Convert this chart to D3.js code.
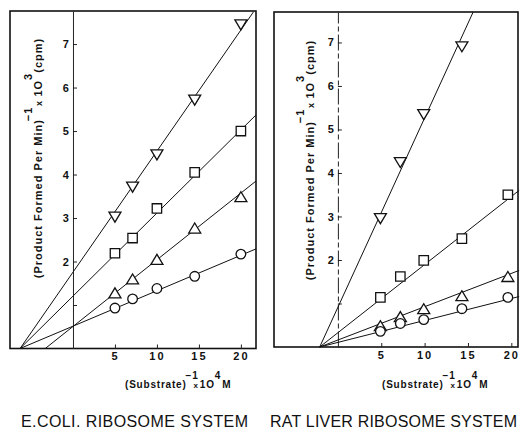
<!DOCTYPE html>
<html>
<head>
<meta charset="utf-8">
<script src="https://cdn.jsdelivr.net/npm/d3@7"></script>
<style>
body { margin: 0; background: #fff; }
text { font-family: "Liberation Sans", Arial, sans-serif; fill: #111; }
</style>
</head>
<body>
<script>
// values
var yTicks = [1, 2, 3, 4, 5, 6, 7]
var xTicks = [5, 10, 15, 20]

// E. coli panel
var ecoliX = [5, 7.1, 10, 14.5, 20]
var ecoliInv = [3.02, 3.71, 4.45, 5.71, 7.44]
var ecoliSq = [2.19, 2.54, 3.22, 4.05, 5.0]
var ecoliTri = [1.28, 1.6, 2.05, 2.77, 3.49]
var ecoliCirc = [0.93, 1.14, 1.38, 1.66, 2.17]
// fitted lines, [start, end] as [x, y]
var ecoliLines = {
  inv: [[-6.3, 0], [21.5, 7.74]],
  sq: [[-6.3, 0], [21.8, 5.37]],
  tri: [[-3.3, 0], [21.8, 3.85]],
  circ: [[-6.3, 0], [21.8, 2.29]]
}

// rat liver panel
var ratX = [4.9, 7.2, 9.9, 14.3, 19.6]
var ratInv = [2.95, 4.24, 5.34, 6.9]
var ratSq = [1.14, 1.62, 1.99, 2.49, 3.5]
var ratTri = [0.49, 0.7, 0.88, 1.18, 1.62]
var ratCirc = [0.36, 0.54, 0.63, 0.88, 1.14]
var ratLines = {
  inv: [[-2.1, 0], [15.6, 7.7]],
  sq: [[-2.1, 0], [20.9, 3.6]],
  tri: [[-2.1, 0], [20.9, 1.76]],
  circ: [[-2.1, 0], [20.9, 1.16]]
}

var width = 526, height = 430

var svg = d3.select("body").append("svg")
    .attr("width", width)
    .attr("height", height)

function marker(type) {
  if (type == "inv") return "M-6,-5L6,-5L0,5Z"
  if (type == "tri") return "M-6,5L6,5L0,-5Z"
  if (type == "sq") return "M-4.7,-4.7h9.4v9.4h-9.4Z"
  return d3.symbol().type(d3.symbolCircle).size(Math.PI * 4.8 * 4.8)()
}

var drawPanel = function(p) {
  var x = d3.scaleLinear().domain(p.xDom).range([p.left, p.right])
  var y = d3.scaleLinear().domain(p.yDom).range([p.bottom, p.top])
  var g = svg.append("g")

  // frame
  g.append("rect")
    .attr("x", p.left).attr("y", p.top)
    .attr("width", p.right - p.left).attr("height", p.bottom - p.top)
    .attr("fill", "none").attr("stroke", "#111").attr("stroke-width", 1.6)

  // y axis sits at x = 0
  var yAxis = d3.axisLeft(y).tickValues(yTicks).tickSize(-4).tickSizeOuter(0).tickPadding(4)
    .tickFormat(function(d) { return d == 1 ? "" : d })
  var ya = g.append("g").attr("transform", "translate(" + x(0) + ",0)").call(yAxis)
  ya.select(".domain").attr("stroke", "#222").attr("stroke-dasharray", p.dashed ? "16,3,5,3" : null)
  ya.selectAll(".tick line").attr("stroke", "#222")
  ya.selectAll("text").attr("font-size", 11).attr("font-weight", "bold").style("font-family", "Liberation Sans, Arial, sans-serif").attr("fill", "#111")

  var xAxis = d3.axisBottom(x).tickValues(xTicks).tickSize(-4).tickPadding(4)
  var xa = g.append("g").attr("transform", "translate(0," + p.bottom + ")").call(xAxis)
  xa.select(".domain").remove()
  xa.selectAll(".tick line").attr("stroke", "#222")
  xa.selectAll("text").attr("font-size", 11).attr("font-weight", "bold")
    .attr("letter-spacing", 2).style("font-family", "Liberation Sans, Arial, sans-serif").attr("fill", "#111")

  // fitted lines
  var line = d3.line().x(function(d) { return x(d[0]) }).y(function(d) { return y(d[1]) })
  Object.keys(p.lines).forEach(function(k) {
    g.append("path").attr("d", line(p.lines[k]))
      .attr("fill", "none").attr("stroke", "#111").attr("stroke-width", 1)
  })

  // points
  p.series.forEach(function(s) {
    g.selectAll(null).data(s.values).enter().append("path")
      .attr("transform", function(d, i) { return "translate(" + x(p.xs[i]) + "," + y(d) + ")" })
      .attr("d", marker(s.type))
      .attr("fill", "#fff").attr("stroke", "#111").attr("stroke-width", 1.3)
  })

  // y label
  var yl = g.append("text")
    .attr("transform", "translate(" + p.ylx + "," + p.yly + ") rotate(-90)")
    .attr("text-anchor", "middle").attr("font-size", 11).attr("font-weight", "bold")
    .attr("letter-spacing", 1)
  yl.append("tspan").text("(Product Formed Per Min)")
  yl.append("tspan").attr("dy", -10).attr("dx", -2).text("\u22121")
  yl.append("tspan").attr("dy", 10).attr("dx", -3).attr("font-size", 9).text(" x ")
  yl.append("tspan").text("1O")
  yl.append("tspan").attr("dy", -10).text("3")
  yl.append("tspan").attr("dy", 10).text("(cpm)")

  // x label
  var xl = g.append("text")
    .attr("x", p.xlx).attr("y", 388)
    .attr("font-size", 10).attr("font-weight", "bold").attr("letter-spacing", 0.8)
  xl.append("tspan").text("(Substrate)")
  xl.append("tspan").attr("dy", -9).attr("dx", -1).text("\u22121")
  xl.append("tspan").attr("dy", 9).attr("dx", -5).attr("font-size", 8).text("x")
  xl.append("tspan").attr("dx", 1).text("1O")
  xl.append("tspan").attr("dy", -9).text("4")
  xl.append("tspan").attr("dy", 9).attr("dx", 1).text("M")

  // caption
  g.append("text")
    .attr("x", p.capX).attr("y", 427)
    .attr("font-size", 16).attr("textLength", p.capW).attr("lengthAdjust", "spacing")
    .attr("fill", "#222")
    .text(p.caption)
}

drawPanel({
  left: 10, right: 256, top: 11, bottom: 348.5,
  xDom: [-7.5, 21.8], yDom: [0, 7.76],
  xs: ecoliX,
  series: [
    { type: "inv", values: ecoliInv },
    { type: "sq", values: ecoliSq },
    { type: "tri", values: ecoliTri },
    { type: "circ", values: ecoliCirc }
  ],
  lines: ecoliLines,
  dashed: false,
  ylx: 42, yly: 158,
  xlx: 125,
  caption: "E.COLI. RIBOSOME SYSTEM", capX: 21, capW: 227
})

drawPanel({
  left: 274, right: 518, top: 12, bottom: 347,
  xDom: [-7.37, 20.77], yDom: [0, 7.7],
  xs: ratX,
  series: [
    { type: "inv", values: ratInv },
    { type: "sq", values: ratSq },
    { type: "tri", values: ratTri },
    { type: "circ", values: ratCirc }
  ],
  lines: ratLines,
  dashed: true,
  ylx: 314, yly: 160,
  xlx: 382,
  caption: "RAT LIVER RIBOSOME SYSTEM", capX: 270, capW: 247
})
</script>
</body>
</html>
